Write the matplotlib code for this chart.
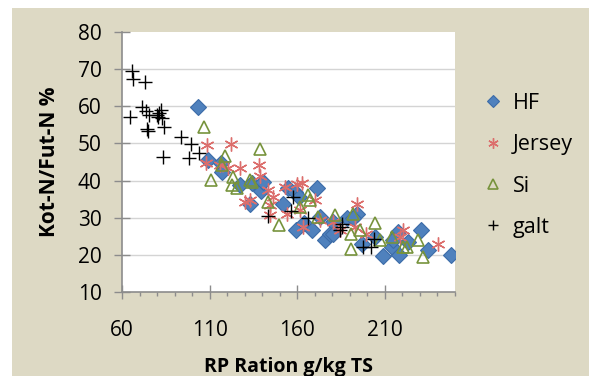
import matplotlib
matplotlib.use("Agg")
import matplotlib.pyplot as plt
from matplotlib.patches import Rectangle
from matplotlib.ticker import MultipleLocator

plt.rcParams['font.family'] = ['Open Sans', 'DejaVu Sans']

# RP in ration (g/kg TS) vs faecal N share of feed N (%)
hf_x = [103.5, 109.2, 116.3, 116.8, 127.3, 133.0, 134.0, 139.3, 140.6, 152.0,
        154.9, 158.7, 161.0, 159.1, 163.8, 168.6, 171.0, 172.9, 175.8, 178.6,
        180.5, 188.1, 193.8, 191.9, 196.7, 204.3, 208.7, 213.8, 217.6, 218.0,
        223.3, 230.5, 234.7, 247.6, 214.8, 180.5]
hf_y = [59.7, 45.5, 44.6, 42.4, 38.8, 33.8, 39.4, 37.2, 39.7, 33.8,
        38.1, 37.0, 35.6, 26.8, 28.6, 26.8, 38.1, 30.2, 24.1, 25.7,
        28.9, 29.8, 31.1, 29.8, 23.0, 24.8, 19.6, 22.1, 26.2, 20.0,
        23.5, 26.6, 21.4, 20.0, 23.9, 25.7]

jersey_x = [108.3, 122.0, 107.9, 115.9, 120.7, 127.3, 138.3, 138.7, 130.2, 133.0,
            143.5, 144.5, 144.5, 153.0, 162.6, 170.2, 154.0, 161.6, 163.5, 172.9,
            180.5, 184.4, 193.8, 192.9, 199.5, 220.4, 218.5, 240.4, 159.6, 146.3]
jersey_y = [49.6, 49.8, 44.6, 44.2, 43.3, 43.3, 44.2, 41.2, 34.3, 34.7,
            37.4, 33.4, 30.7, 38.3, 39.4, 34.7, 31.1, 32.0, 27.5, 29.3,
            28.9, 26.6, 33.6, 27.5, 25.7, 26.6, 24.8, 22.8, 39.2, 35.6]

si_x = [106.8, 138.7, 110.8, 118.7, 116.8, 123.5, 122.5, 125.4, 133.0, 134.0,
        143.5, 149.6, 161.6, 166.3, 167.2, 172.0, 181.5, 191.9, 190.9, 190.9,
        195.7, 204.3, 213.8, 220.4, 222.4, 228.9, 231.8, 207.0]
si_y = [54.5, 48.5, 40.1, 46.6, 44.2, 41.0, 38.8, 37.9, 40.1, 39.7,
        34.3, 28.0, 32.9, 36.0, 34.7, 30.2, 30.7, 31.1, 25.7, 21.7,
        26.6, 28.6, 24.8, 22.1, 22.1, 24.1, 19.4, 23.9]

galt_x = [65.9, 66.5, 73.1, 64.6, 71.2, 73.7, 75.6, 74.4, 75.0, 79.8,
          81.3, 82.2, 82.6, 80.7, 84.1, 83.6, 93.5, 99.2, 98.4, 103.9,
          157.7, 156.2, 143.1, 166.3, 185.7, 184.4, 203.7, 197.6, 202.3, 185.3]
galt_y = [69.6, 67.4, 66.5, 57.0, 59.9, 58.8, 57.7, 53.8, 53.4, 57.7,
          58.1, 59.0, 56.8, 57.2, 54.5, 46.4, 51.6, 49.8, 46.0, 47.5,
          35.6, 31.8, 30.4, 29.8, 28.4, 26.6, 24.4, 22.1, 22.1, 27.5]

fig = plt.figure(figsize=(5.89, 3.76), dpi=100, facecolor='white')
# beige chart area, white margin on top and left
fig.add_artist(Rectangle((12 / 589, 0), 1, 1 - 8 / 376, transform=fig.transFigure,
                         facecolor='#ddd9c4', edgecolor='none', zorder=-10))
ax = fig.add_axes([122 / 589, 1 - 292 / 376, 333 / 589, 260 / 376])
ax.set_facecolor('white')

ax.plot(hf_x, hf_y, 'D', ms=8, mfc='#4f81bd', mec='#3c6ca8', mew=0.8, ls='none', label='HF')
ax.plot(jersey_x, jersey_y, marker=(6, 2, 0), ms=10, mec='#dc6e6c', mew=1.0, ls='none', label='Jersey')
ax.plot(si_x, si_y, '^', ms=9, mfc='none', mec='#77933c', mew=1.2, ls='none', label='Si')
ax.plot(galt_x, galt_y, '+', ms=10, mec='black', mew=1.0, ls='none', label='galt')

ax.set_xlim(60, 250)
ax.set_ylim(10, 80)
ax.xaxis.set_major_locator(MultipleLocator(50, offset=10))
ax.xaxis.set_minor_locator(MultipleLocator(10))
ax.yaxis.set_major_locator(MultipleLocator(10))
for yv in range(20, 80, 10):
    ax.axhline(yv, color='#d4d4d4', lw=1, zorder=0)

for s in ['top', 'right']:
    ax.spines[s].set_visible(False)
for s in ['left', 'bottom']:
    ax.spines[s].set_color('#8c8c8c')
    ax.spines[s].set_linewidth(1.2)

ax.tick_params(axis='y', which='major', direction='inout', length=11, width=1,
               color='#8c8c8c', labelsize=15, pad=9)
ax.tick_params(axis='x', which='major', direction='inout', length=10, width=1,
               color='#8c8c8c', labelsize=15, pad=15.5)
ax.tick_params(axis='x', which='minor', direction='out', length=3, width=1, color='#8c8c8c')

ax.set_xlabel('RP Ration g/kg TS', fontsize=14, fontweight='bold', labelpad=11)
ax.set_ylabel('Kot-N/Fut-N %', fontsize=15, fontweight='bold', labelpad=13)

ax.legend(loc='upper left', bbox_to_anchor=(1.06, 0.80), frameon=False, fontsize=15.5,
          labelspacing=0.95, handlelength=0.9, handletextpad=0.45, borderaxespad=0,
          markerscale=0.75)

fig.savefig('out.png', dpi=100)
